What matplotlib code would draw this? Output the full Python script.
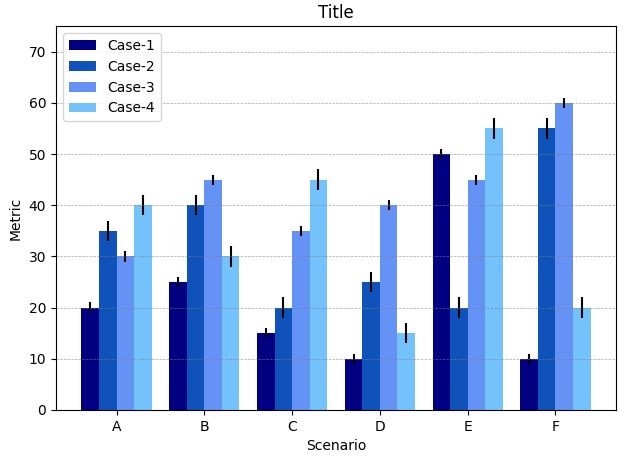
import numpy as np
import matplotlib
matplotlib.use('Agg')
import matplotlib.pyplot as plt

scenarios = ['A', 'B', 'C', 'D', 'E', 'F']
cases = ['Case-1', 'Case-2', 'Case-3', 'Case-4']
case1 = [20, 25, 15, 10, 50, 10]
case2 = [35, 40, 20, 25, 20, 55]
case3 = [30, 45, 35, 40, 45, 60]
case4 = [40, 30, 45, 15, 55, 20]
err1 = [1, 1, 1, 1, 1, 1]
err2 = [2, 2, 2, 2, 2, 2]
err3 = [1, 1, 1, 1, 1, 1]
err4 = [2, 2, 2, 2, 2, 2]
colors = ['#000080', '#0f52ba', '#6593f5', '#73c2fb']

values = [case1, case2, case3, case4]
errors = [err1, err2, err3, err4]

fig, ax = plt.subplots(figsize=(6.26, 4.59), dpi=100)
x = np.arange(len(scenarios))
w = 0.2
for i in range(4):
    ax.bar(x + (i - 1.5) * w, values[i], w, yerr=errors[i], color=colors[i],
           label=cases[i], error_kw=dict(ecolor='black', elinewidth=1.5, capsize=0))

ax.set_xticks(x)
ax.set_xticklabels(scenarios)
ax.set_ylim(0, 75)
ax.set_xlabel('Scenario')
ax.set_ylabel('Metric')
ax.set_title('Title')
ax.yaxis.grid(True, linestyle='--', linewidth=0.5, color='gray', alpha=0.7)
ax.set_axisbelow(False)
ax.legend(loc='upper left')
fig.subplots_adjust(left=0.0895, right=0.984, bottom=0.107, top=0.943)
plt.savefig('out.png')
